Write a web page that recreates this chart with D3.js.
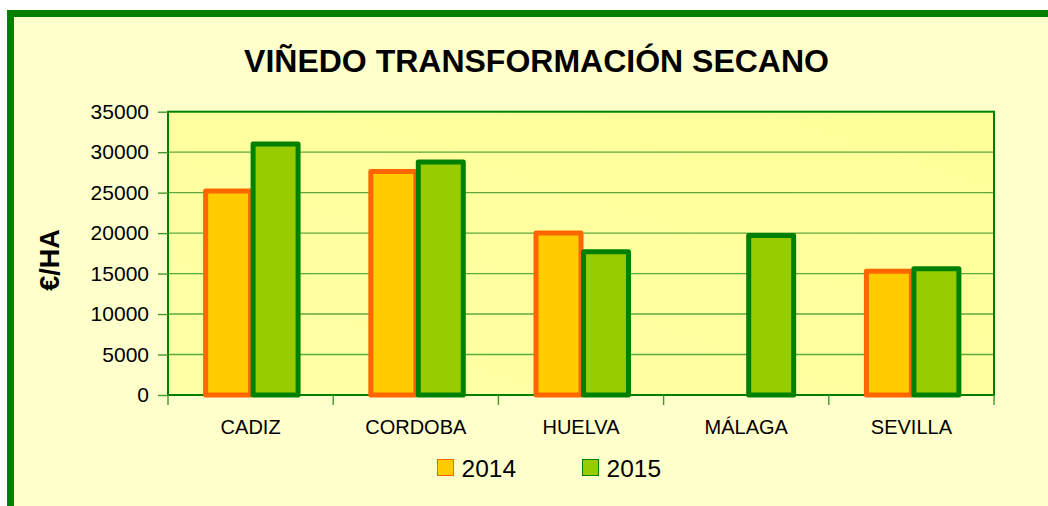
<!DOCTYPE html>
<html>
<head>
<meta charset="utf-8">
<script src="https://cdn.jsdelivr.net/npm/d3@7"></script>
<style>
  html, body { margin: 0; padding: 0; background: #ffffff; }
  svg { display: block; }
  text { font-family: "Liberation Sans", Arial, sans-serif; fill: #000; }
</style>
</head>
<body>
<svg id="chart" width="1048" height="506"></svg>
<script>
// ---- data ----
const titleText = "VIÑEDO TRANSFORMACIÓN SECANO";
const yAxisTitle = "€/HA";
const categories = ["CADIZ", "CORDOBA", "HUELVA", "MÁLAGA", "SEVILLA"];
const seriesNames = ["2014", "2015"];
const values2014 = [25200, 27600, 20000, null, 15300];
const values2015 = [31000, 28800, 17700, 19700, 15600];
const yTicks = [0, 5000, 10000, 15000, 20000, 25000, 30000, 35000];

const fills = { "2014": "#FFCC00", "2015": "#99CC00" };
const strokes = { "2014": "#FF6600", "2015": "#008000" };

const rows = categories.map((c, i) => ({
  cat: c,
  vals: [
    { s: "2014", v: values2014[i] },
    { s: "2015", v: values2015[i] }
  ]
}));

const svg = d3.select("#chart");
const W = 1048, H = 506;

// outer chart background + border
svg.append("rect")
  .attr("x", 10.5).attr("y", 13.5)
  .attr("width", W + 20).attr("height", H + 20)
  .attr("fill", "#FFFFCC")
  .attr("stroke", "#008000")
  .attr("stroke-width", 7);

const plot = { left: 168, right: 994, top: 111.7, bottom: 395 };

const x0 = d3.scaleBand()
  .domain(categories)
  .range([plot.left, plot.right])
  .paddingInner(0).paddingOuter(0);

const x1 = d3.scaleBand()
  .domain(seriesNames)
  .range([0, x0.bandwidth()])
  .paddingInner(0)
  .paddingOuter(0.74);

const y = d3.scaleLinear()
  .domain([0, 35000])
  .range([plot.bottom, plot.top]);

// plot area
const grad = svg.append("defs").append("linearGradient")
  .attr("id", "pg").attr("x1", "0").attr("y1", "1").attr("x2", "1").attr("y2", "0");
grad.append("stop").attr("offset", "0").attr("stop-color", "#FFFFA6");
grad.append("stop").attr("offset", "1").attr("stop-color", "#FFFF99");

svg.append("rect")
  .attr("x", plot.left).attr("y", plot.top)
  .attr("width", plot.right - plot.left)
  .attr("height", plot.bottom - plot.top)
  .attr("fill", "url(#pg)");

// gridlines
svg.append("g")
  .selectAll("line")
  .data(yTicks.filter(t => t > 0 && t < 35000))
  .join("line")
  .attr("x1", plot.left).attr("x2", plot.right)
  .attr("y1", d => y(d)).attr("y2", d => y(d))
  .attr("stroke", "#3f9a2c")
  .attr("stroke-opacity", 0.85)
  .attr("stroke-width", 1.4);

// plot border
svg.append("rect")
  .attr("x", plot.left).attr("y", plot.top)
  .attr("width", plot.right - plot.left)
  .attr("height", plot.bottom - plot.top)
  .attr("fill", "none")
  .attr("stroke", "#008000")
  .attr("stroke-width", 2);

// y axis
const yAxis = d3.axisLeft(y)
  .tickValues(yTicks)
  .tickSize(10)
  .tickPadding(9)
  .tickFormat(d => String(d));
const gy = svg.append("g")
  .attr("transform", `translate(${plot.left},0)`)
  .call(yAxis);
gy.select(".domain").remove();
gy.selectAll(".tick line").attr("stroke", "#3f9a2c").attr("stroke-width", 1.4);
gy.selectAll(".tick text")
  .style("font-family", '"Liberation Sans", Arial, sans-serif')
  .style("font-size", "21px")
  .attr("fill", "#000");

// x axis ticks at band boundaries
const boundaries = categories.map(c => x0(c)).concat([x0(categories[categories.length - 1]) + x0.bandwidth()]);
svg.append("g")
  .selectAll("line")
  .data(boundaries)
  .join("line")
  .attr("x1", d => d).attr("x2", d => d)
  .attr("y1", plot.bottom).attr("y2", plot.bottom + 10)
  .attr("stroke", "#3f9a2c")
  .attr("stroke-width", 1.4);

// category labels
svg.append("g")
  .selectAll("text")
  .data(categories)
  .join("text")
  .attr("x", d => x0(d) + x0.bandwidth() / 2)
  .attr("y", 434)
  .attr("text-anchor", "middle")
  .style("font-size", "20px")
  .text(d => d);

// bars
const bw = x1.bandwidth();
const sw = 5;
const groups = svg.append("g")
  .selectAll("g")
  .data(rows)
  .join("g")
  .attr("transform", d => `translate(${x0(d.cat)},0)`);

groups.selectAll("rect")
  .data(d => d.vals.filter(v => v.v != null))
  .join("rect")
  .attr("x", d => x1(d.s) + sw / 2)
  .attr("y", d => y(d.v))
  .attr("width", bw - sw / 2)
  .attr("height", d => y(0) - y(d.v))
  .attr("fill", d => fills[d.s])
  .attr("stroke", d => strokes[d.s])
  .attr("stroke-width", sw)
  .attr("stroke-linejoin", "round");

// title
svg.append("text")
  .attr("x", 536.5)
  .attr("y", 72)
  .attr("text-anchor", "middle")
  .style("font-size", "32px")
  .style("font-weight", "bold")
  .text(titleText);

// y axis title
svg.append("text")
  .attr("transform", "translate(59,260) rotate(-90)")
  .attr("text-anchor", "middle")
  .style("font-size", "27px")
  .style("font-weight", "bold")
  .text(yAxisTitle);

// legend
const legendItems = [
  { s: "2014", x: 437.5 },
  { s: "2015", x: 582.5 }
];
const lg = svg.append("g")
  .selectAll("g")
  .data(legendItems)
  .join("g")
  .attr("transform", d => `translate(${d.x},459.5)`);
lg.append("rect")
  .attr("width", 16).attr("height", 16)
  .attr("fill", d => fills[d.s])
  .attr("stroke", d => strokes[d.s])
  .attr("stroke-width", 1);
lg.append("text")
  .attr("x", 24)
  .attr("y", 17.5)
  .style("font-size", "24.5px")
  .text(d => d.s);
</script>
</body>
</html>
